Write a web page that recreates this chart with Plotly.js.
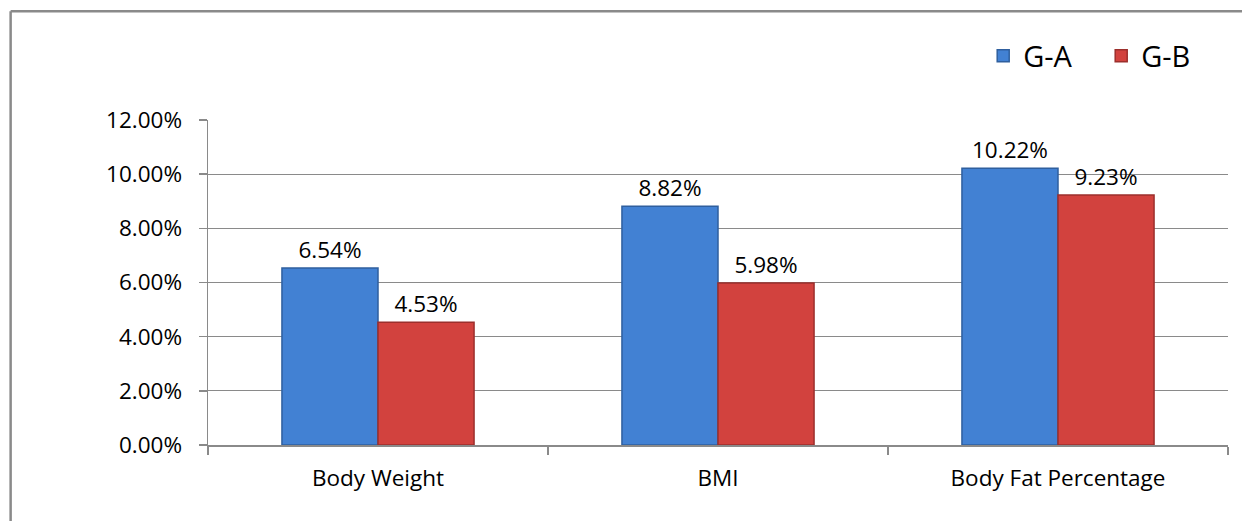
<!DOCTYPE html>
<html>
<head>
<meta charset="utf-8">
<script src="https://cdn.plot.ly/plotly-3.0.1.min.js"></script>
<style>
  html, body { margin: 0; padding: 0; background: #ffffff; }
  #chart { width: 1242px; height: 521px; }
</style>
</head>
<body>
<div id="chart"></div>
<script>
const categories = ["Body Weight", "BMI", "Body Fat Percentage"];
const seriesNames = ["G-A", "G-B"];
const valuesGA = [6.54, 8.82, 10.22];
const valuesGB = [4.53, 5.98, 9.23];
const yTickValues = [0, 2, 4, 6, 8, 10, 12];
const yTickLabels = ["0.00%", "2.00%", "4.00%", "6.00%", "8.00%", "10.00%", "12.00%"];

const FONT = "'Open Sans', 'Liberation Sans', sans-serif";
const GRID = "#8a8a8a";

const traces = [
  {
    type: "bar",
    name: seriesNames[0],
    x: categories,
    y: valuesGA,
    marker: { color: "#4281d3", line: { color: "#2f5f9e", width: 1.5 } },
    texttemplate: "%{y:.2f}%",
    textposition: "outside",
    textfont: { family: FONT, size: 22.5, color: "#000000" },
    cliponaxis: false,
    hoverinfo: "skip"
  },
  {
    type: "bar",
    name: seriesNames[1],
    x: categories,
    y: valuesGB,
    marker: { color: "#d2423e", line: { color: "#9c2f2c", width: 1.5 } },
    texttemplate: "%{y:.2f}%",
    textposition: "outside",
    textfont: { family: FONT, size: 22.5, color: "#000000" },
    cliponaxis: false,
    hoverinfo: "skip"
  }
];

const layout = {
  width: 1242,
  height: 521,
  paper_bgcolor: "#ffffff",
  plot_bgcolor: "#ffffff",
  font: { family: FONT, size: 22, color: "#000000" },
  margin: { l: 208, r: 14, t: 120, b: 76, pad: 0, autoexpand: false },
  barmode: "group",
  bargap: 0.435,
  bargroupgap: 0,
  showlegend: true,
  legend: {
    orientation: "h",
    x: 0.76, xanchor: "left",
    y: 1.197, yanchor: "middle",
    font: { family: FONT, size: 29, color: "#000000" },
    itemwidth: 30,
    entrywidth: 73,
    entrywidthmode: "pixels",
    tracegroupgap: 0,
    bgcolor: "rgba(0,0,0,0)"
  },
  xaxis: {
    type: "category",
    showline: true,
    linecolor: GRID,
    linewidth: 1.5,
    ticks: "outside",
    tickson: "boundaries",
    ticklen: 8,
    tickcolor: GRID,
    tickwidth: 1.5,
    ticklabelstandoff: 12,
    tickfont: { family: FONT, size: 22.5, color: "#000000" },
    showgrid: false,
    zeroline: false,
    fixedrange: true
  },
  yaxis: {
    range: [0, 12],
    tickmode: "array",
    tickvals: yTickValues,
    ticktext: yTickLabels,
    showline: true,
    linecolor: GRID,
    linewidth: 1.5,
    ticks: "outside",
    ticklen: 8,
    tickcolor: GRID,
    tickwidth: 1.5,
    ticklabelstandoff: 12,
    tickfont: { family: FONT, size: 22.5, color: "#000000" },
    showgrid: true,
    gridcolor: GRID,
    gridwidth: 1.2,
    zeroline: false,
    fixedrange: true
  },
  shapes: [
    { type: "line", xref: "paper", yref: "paper", x0: -0.1935, x1: -0.1935, y0: 1.335, y1: -0.3, line: { color: "#8a8a8a", width: 2.5 } },
    { type: "line", xref: "paper", yref: "paper", x0: -0.1935, x1: 1.05, y0: 1.335, y1: 1.335, line: { color: "#8a8a8a", width: 2.5 } }
  ]
};

Plotly.newPlot("chart", traces, layout, { displayModeBar: false, staticPlot: true });
</script>
</body>
</html>
